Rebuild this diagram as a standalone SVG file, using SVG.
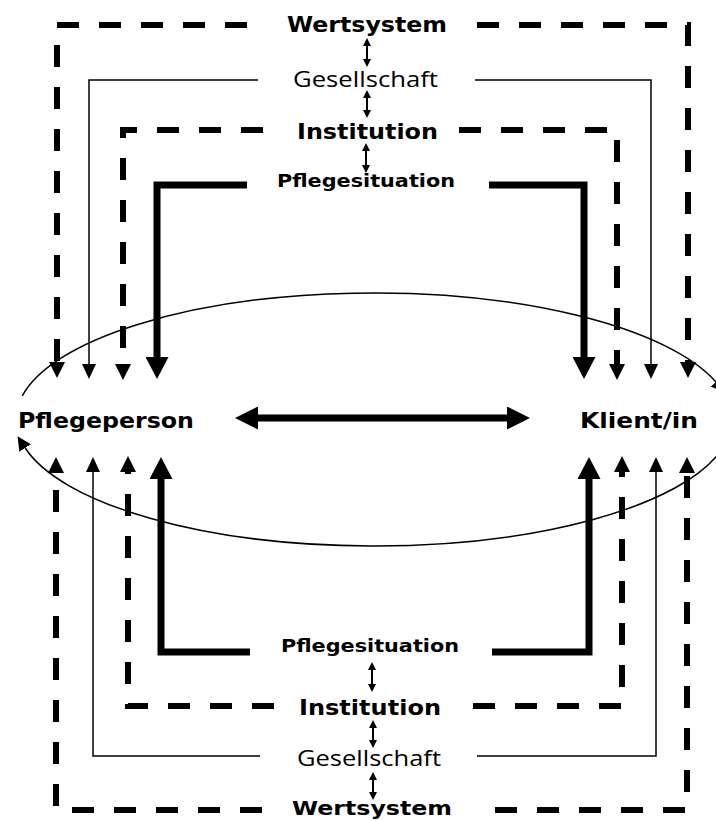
<svg xmlns="http://www.w3.org/2000/svg" width="716" height="821" viewBox="0 0 716 821">
<style>
.bg{fill:#fff}
.dash{fill:none;stroke:#000;stroke-width:6;stroke-dasharray:22 20;stroke-linejoin:miter}
.thin{fill:none;stroke:#000;stroke-width:1.5}
.thick{fill:none;stroke:#000;stroke-width:7;stroke-linejoin:miter}
.small{fill:none;stroke:#000;stroke-width:2}
.center{fill:none;stroke:#000;stroke-width:7}
.ell{fill:none;stroke:#000;stroke-width:1.5}
.b{font-family:"DejaVu Sans","Liberation Sans",sans-serif;font-weight:bold;fill:#000}
.l{font-family:"Open Sans","Liberation Sans",sans-serif;font-weight:400;fill:#000}
</style>
<defs>
<marker id="mDash" markerUnits="userSpaceOnUse" viewBox="0 0 16 16" markerWidth="16" markerHeight="16" refX="0" refY="8" orient="auto"><path d="M0,0 L16,8 L0,16 z"/></marker>
<marker id="mThin" markerUnits="userSpaceOnUse" viewBox="0 0 15 14" markerWidth="15" markerHeight="14" refX="0" refY="7" orient="auto"><path d="M0,0 L15,7 L0,14 z"/></marker>
<marker id="mThick" markerUnits="userSpaceOnUse" viewBox="0 0 22 23" markerWidth="22" markerHeight="23" refX="0" refY="11.5" orient="auto"><path d="M0,0 L22,11.5 L0,23 z"/></marker>
<marker id="mSmall" markerUnits="userSpaceOnUse" viewBox="0 0 8 8" markerWidth="8" markerHeight="8" refX="0" refY="4" orient="auto-start-reverse"><path d="M0,0 L8,4 L0,8 z"/></marker>
<marker id="mBig" markerUnits="userSpaceOnUse" viewBox="0 0 23 23" markerWidth="23" markerHeight="23" refX="0" refY="11.5" orient="auto-start-reverse"><path d="M0,0 L23,11.5 L0,23 z"/></marker>
<marker id="mEll" markerUnits="userSpaceOnUse" viewBox="0 0 14 14" markerWidth="14" markerHeight="14" refX="0" refY="7" orient="auto"><path d="M0,0 L14,7 L0,14 z"/></marker>
</defs>
<rect class="bg" x="0" y="0" width="716" height="821"/>

<g id="connectors">
  <!-- Wertsystem (outer dashed) -->
  <path class="dash" d="M247,25 H57 V362" marker-end="url(#mDash)"/>
  <path class="dash" d="M477,25 H688 V362" marker-end="url(#mDash)"/>
  <path class="dash" d="M262,810 H56 V473" marker-end="url(#mDash)"/>
  <path class="dash" d="M495,810 H687 V473" marker-end="url(#mDash)"/>
  <!-- Gesellschaft (thin) -->
  <path class="thin" d="M258,80 H89 V364" marker-end="url(#mThin)"/>
  <path class="thin" d="M475,80 H651 V364" marker-end="url(#mThin)"/>
  <path class="thin" d="M260,756 H93 V472" marker-end="url(#mThin)"/>
  <path class="thin" d="M477,756 H656 V472" marker-end="url(#mThin)"/>
  <!-- Institution (dashed) -->
  <path class="dash" d="M263,130 H123 V364" marker-end="url(#mDash)"/>
  <path class="dash" d="M459,130 H617 V364" marker-end="url(#mDash)"/>
  <path class="dash" d="M274,706 H128 V472" marker-end="url(#mDash)"/>
  <path class="dash" d="M473,706 H622 V472" marker-end="url(#mDash)"/>
  <!-- Pflegesituation (thick) -->
  <path class="thick" d="M247,185 H157 V357" marker-end="url(#mThick)"/>
  <path class="thick" d="M489,185 H584 V357" marker-end="url(#mThick)"/>
  <path class="thick" d="M250,652 H161 V479" marker-end="url(#mThick)"/>
  <path class="thick" d="M492,652 H589 V479" marker-end="url(#mThick)"/>
  <!-- small double arrows -->
  <path class="small" d="M367,46 V59" marker-start="url(#mSmall)" marker-end="url(#mSmall)"/>
  <path class="small" d="M367,98 V110" marker-start="url(#mSmall)" marker-end="url(#mSmall)"/>
  <path class="small" d="M366,151 V165" marker-start="url(#mSmall)" marker-end="url(#mSmall)"/>
  <path class="small" d="M372,670 V684" marker-start="url(#mSmall)" marker-end="url(#mSmall)"/>
  <path class="small" d="M373,728 V740" marker-start="url(#mSmall)" marker-end="url(#mSmall)"/>
  <path class="small" d="M373,780 V792" marker-start="url(#mSmall)" marker-end="url(#mSmall)"/>
  <!-- center double arrow -->
  <path class="center" d="M258,418 H507" marker-start="url(#mBig)" marker-end="url(#mBig)"/>
  <!-- ellipse arcs -->
  <path class="ell" d="M22.2,396 A358,126.5 0 0 1 715.9,382" marker-end="url(#mEll)"/>
  <path class="ell" d="M721.4,450 A358,126.5 0 0 1 25.2,448" marker-end="url(#mEll)"/>
</g>

<g id="wertsystem-top"><text class="b" x="287" y="32" font-size="21" textLength="160" lengthAdjust="spacingAndGlyphs">Wertsystem</text></g>
<g id="gesellschaft-top"><text class="l" x="293" y="87" font-size="22" textLength="145" lengthAdjust="spacingAndGlyphs">Gesellschaft</text></g>
<g id="institution-top"><text class="b" x="297" y="139" font-size="22" textLength="141" lengthAdjust="spacingAndGlyphs">Institution</text></g>
<g id="pflegesituation-top"><text class="b" x="277" y="187" font-size="18" textLength="178" lengthAdjust="spacingAndGlyphs">Pflegesituation</text></g>

<g id="pflegeperson"><text class="b" x="18" y="428" font-size="22" textLength="176" lengthAdjust="spacingAndGlyphs">Pflegeperson</text></g>
<g id="klient"><text class="b" x="580" y="428" font-size="22" textLength="118" lengthAdjust="spacingAndGlyphs">Klient/in</text></g>

<g id="pflegesituation-bottom"><text class="b" x="281" y="652" font-size="18" textLength="178" lengthAdjust="spacingAndGlyphs">Pflegesituation</text></g>
<g id="institution-bottom"><text class="b" x="299" y="715" font-size="22" textLength="142" lengthAdjust="spacingAndGlyphs">Institution</text></g>
<g id="gesellschaft-bottom"><text class="l" x="297" y="766" font-size="22" textLength="144" lengthAdjust="spacingAndGlyphs">Gesellschaft</text></g>
<g id="wertsystem-bottom"><text class="b" x="292" y="815" font-size="20" textLength="160" lengthAdjust="spacingAndGlyphs">Wertsystem</text></g>
</svg>
